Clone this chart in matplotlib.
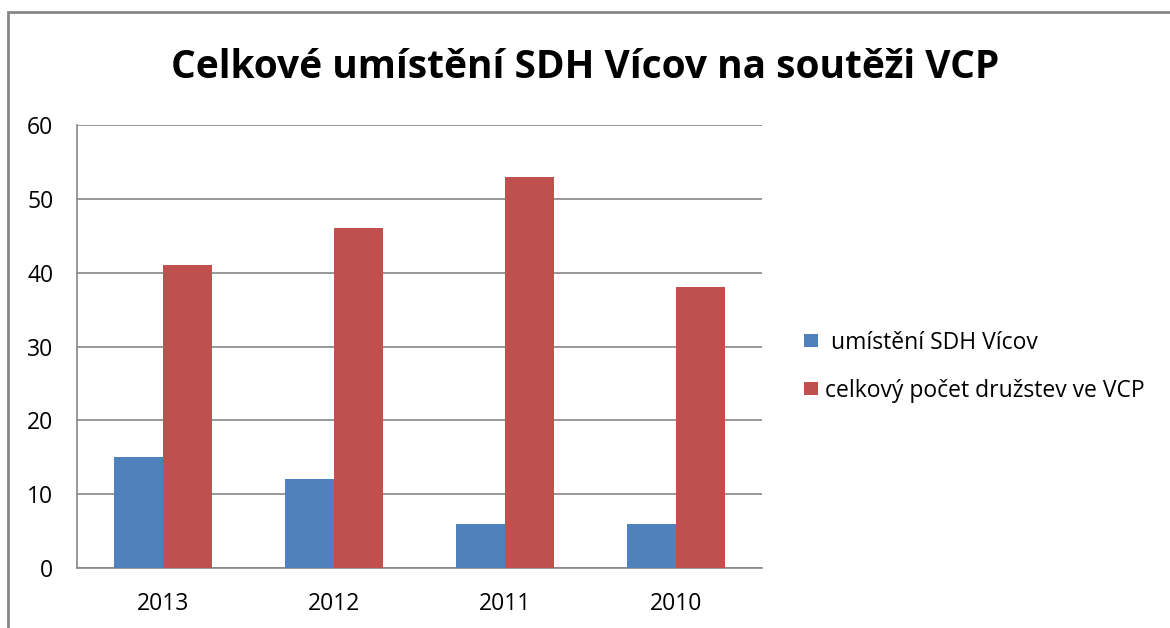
import matplotlib
matplotlib.use("Agg")
import matplotlib.pyplot as plt
from matplotlib.patches import Rectangle, Patch
import numpy as np

categories = ["2013", "2012", "2011", "2010"]
umisteni = [15, 12, 6, 6]
celkem = [41, 46, 53, 38]
series_names = [" umístění SDH Vícov", "celkový počet družstev ve VCP"]
title = "Celkové umístění SDH Vícov na soutěži VCP"

plt.rcParams['font.family'] = ['Open Sans', 'DejaVu Sans']

W, H = 1170, 628
fig = plt.figure(figsize=(W / 100, H / 100), dpi=100)

# outer border
fig.patches.append(Rectangle((8 / W, -0.2), 1.2, 1.2 - 12 / H, transform=fig.transFigure,
                             fill=False, edgecolor="#868686", linewidth=2.0))

ax = fig.add_axes([77 / W, 1 - 568 / H, (762 - 77) / W, (568 - 125) / H])

x = np.arange(len(categories))
bw = 1 / 3.5
ax.bar(x - bw / 2, umisteni, bw, color="#4F81BD", label=series_names[0], zorder=3)
ax.bar(x + bw / 2, celkem, bw, color="#C0504D", label=series_names[1], zorder=3)

ax.set_xlim(-0.5, len(categories) - 0.5)
ax.set_ylim(0, 60)
ax.set_yticks(range(0, 61, 10))
ax.set_xticks(x)
ax.set_xticklabels(categories)
ax.tick_params(length=0, labelsize=16.5, colors="black")
ax.tick_params(axis="x", pad=17.5)
ax.tick_params(axis="y", pad=17)
ax.grid(axis="y", color="#868686", linewidth=1.2, zorder=0)
for s in ["top", "right"]:
    ax.spines[s].set_visible(False)
for s in ["left", "bottom"]:
    ax.spines[s].set_color("#868686")
    ax.spines[s].set_linewidth(1.2)

fig.text(585 / W, 1 - 68 / H, title, ha="center", va="center",
         fontsize=28, fontweight="bold")

handles = [Patch(facecolor="#4F81BD"), Patch(facecolor="#C0504D")]
fig.legend(handles, series_names, loc="upper left",
           bbox_to_anchor=(783 / W, 1 - 310 / H), frameon=False,
           fontsize=16.5, handlelength=0.62, handleheight=0.5,
           handletextpad=0.3, labelspacing=1.05)

fig.savefig("out.png", dpi=100, facecolor="white")
